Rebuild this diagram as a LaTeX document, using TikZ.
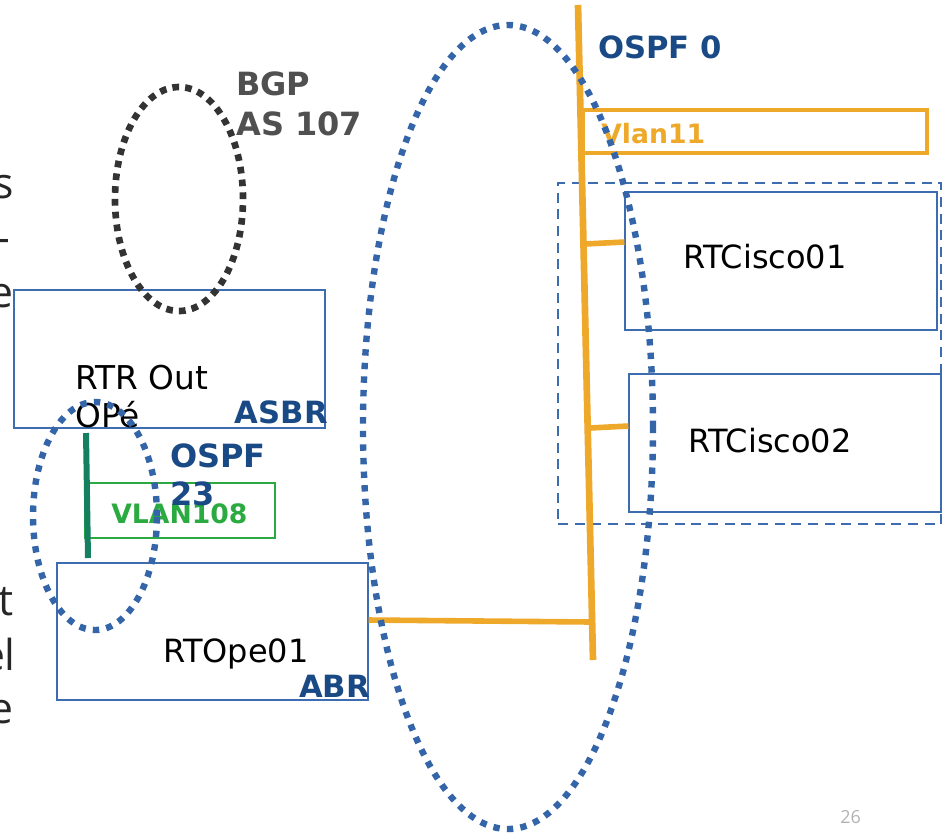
\documentclass[tikz,border=0pt]{standalone}
\usepackage{fontspec}
\setmainfont{DejaVu Sans}
\newfontfamily\thinfont{Open Sans}
\usetikzlibrary{shapes.geometric}
\definecolor{boxblue}{HTML}{3D6CB0}
\definecolor{dotblue}{HTML}{3465A8}
\definecolor{darkblue}{HTML}{1A4A85}
\definecolor{orangeln}{HTML}{EEA82A}
\definecolor{greenln}{HTML}{158060}
\definecolor{greenbox}{HTML}{2AAA40}
\definecolor{bgpgray}{HTML}{505050}
\definecolor{dotblack}{HTML}{333333}
\tikzset{
  router/.style={draw=boxblue, line width=0.9pt, rectangle, inner sep=0pt},
  routertext/.style={anchor=base west, inner sep=0pt, font=\fontsize{24}{28}\selectfont},
  bluelabel/.style={inner sep=0pt, text=darkblue, font=\fontsize{23}{27}\selectfont\bfseries},
  bluedots/.style={draw=dotblue, line width=4.8pt, dash pattern=on 4.8pt off 5.4pt},
  blackdots/.style={draw=dotblack, line width=5pt, dash pattern=on 5pt off 4.6pt},
  trunk/.style={draw=orangeln, line width=5pt},
  stub/.style={draw=orangeln, line width=4.2pt},
  thintext/.style={anchor=base east, inner sep=0pt, text=black!85, font=\thinfont\fontsize{32}{36}\selectfont},
}
\begin{document}
\begin{tikzpicture}[x=0.75pt,y=-0.75pt]
\useasboundingbox (0,0) rectangle (944,833);

% left cut-off text fragments
\node[thintext] (l1) at (14,198) {s};
\node[thintext] (l2) at (10,252) {-};
\node[thintext] (l3) at (14,307) {e};
\node[thintext] (l4) at (14,615) {t};
\node[thintext] (l5) at (16,670) {el};
\node[thintext] (l6) at (14,723) {e};

% router boxes
\node[router, minimum width=233.25pt, minimum height=103.5pt] (rtr) at (169.5,359) {};
\node[router, minimum width=233.25pt, minimum height=102.75pt] (rtope) at (212.5,631.5) {};
\node[router, minimum width=234pt, minimum height=103.5pt] (cisco1) at (781,261) {};
\node[router, minimum width=234pt, minimum height=103.5pt] (cisco2) at (785,443) {};
\node[draw=boxblue, line width=0.9pt, dash pattern=on 7.5pt off 5pt, rectangle, inner sep=0pt,
      minimum width=287.25pt, minimum height=255.75pt] (group) at (749.5,353.5) {};

% VLAN108 box
\node[draw=greenbox, line width=0.9pt, rectangle, inner sep=0pt,
      minimum width=142.5pt, minimum height=41.25pt] (vlan108box) at (180,510.5) {};
\node[anchor=base west, inner sep=0pt, text=greenbox, font=\fontsize{20}{24}\selectfont\bfseries] (vlan108) at (111,523) {VLAN108};

% Vlan11 box
\node[draw=orangeln, line width=3pt, rectangle, inner sep=0pt,
      minimum width=258pt, minimum height=32.25pt] (vlan11box) at (755,131.5) {};
\node[anchor=base west, inner sep=0pt, text=orangeln, font=\fontsize{20}{24}\selectfont\bfseries] (vlan11) at (601,143) {Vlan11};

% green link
\coordinate (g1) at (86,433);
\coordinate (g2) at (88,558);
\draw[draw=greenln, line width=4.5pt] (g1) -- (g2);

% orange trunk and stubs
\coordinate (t0) at (578,5);
\coordinate (t1) at (593,660);
\coordinate (s1) at (585,244);
\coordinate (s2) at (590,428);
\coordinate (s3) at (592,622);
\draw[trunk] (t0) -- (t1);
\draw[stub] (s1) -- (cisco1.west |- 0,242);
\draw[stub] (s2) -- (cisco2.west |- 0,426);
\draw[stub] (s3) -- (rtope.east |- 0,620);

% router texts
\node[routertext, font=\fontsize{24.6}{28}\selectfont] (rtr1) at (75,389) {RTR Out};
\node[routertext, font=\fontsize{24.6}{28}\selectfont] (rtr2) at (75,427) {OPé};
\node[routertext] (rtope1) at (163,662) {RTOpe01};
\node[routertext] (c1) at (683,268) {RTCisco01};
\node[routertext] (c2) at (688,452) {RTCisco02};

% dotted areas
\draw[blackdots] (179,199) ellipse [x radius=48pt, y radius=84pt];
\draw[bluedots] (95,516) ellipse [x radius=46.5pt, y radius=85.5pt];
\draw[bluedots] (508,427) ellipse [x radius=108.75pt, y radius=301.5pt];

% labels
\node[anchor=base west, inner sep=0pt, text=bgpgray, font=\fontsize{24}{28}\selectfont\bfseries] (bgp1) at (236,95) {BGP};
\node[anchor=base west, inner sep=0pt, text=bgpgray, font=\fontsize{24}{28}\selectfont\bfseries] (bgp2) at (236,135) {AS 107};
\node[bluelabel, anchor=base east] (asbr) at (328,423) {ASBR};
\node[bluelabel, anchor=base west, font=\fontsize{24}{28}\selectfont\bfseries] (ospf23a) at (170,467) {OSPF};
\node[bluelabel, anchor=base west, font=\fontsize{24}{28}\selectfont\bfseries] (ospf23b) at (170,505) {23};
\node[bluelabel, anchor=base east] (abr) at (370,697) {ABR};
\node[bluelabel, anchor=base west] (ospf0) at (598,58) {OSPF 0};

% page number
\node[anchor=base west, inner sep=0pt, text=black!30, font=\thinfont\fontsize{13.5}{15}\selectfont] (pg) at (840,823) {26};
\end{tikzpicture}
\end{document}
